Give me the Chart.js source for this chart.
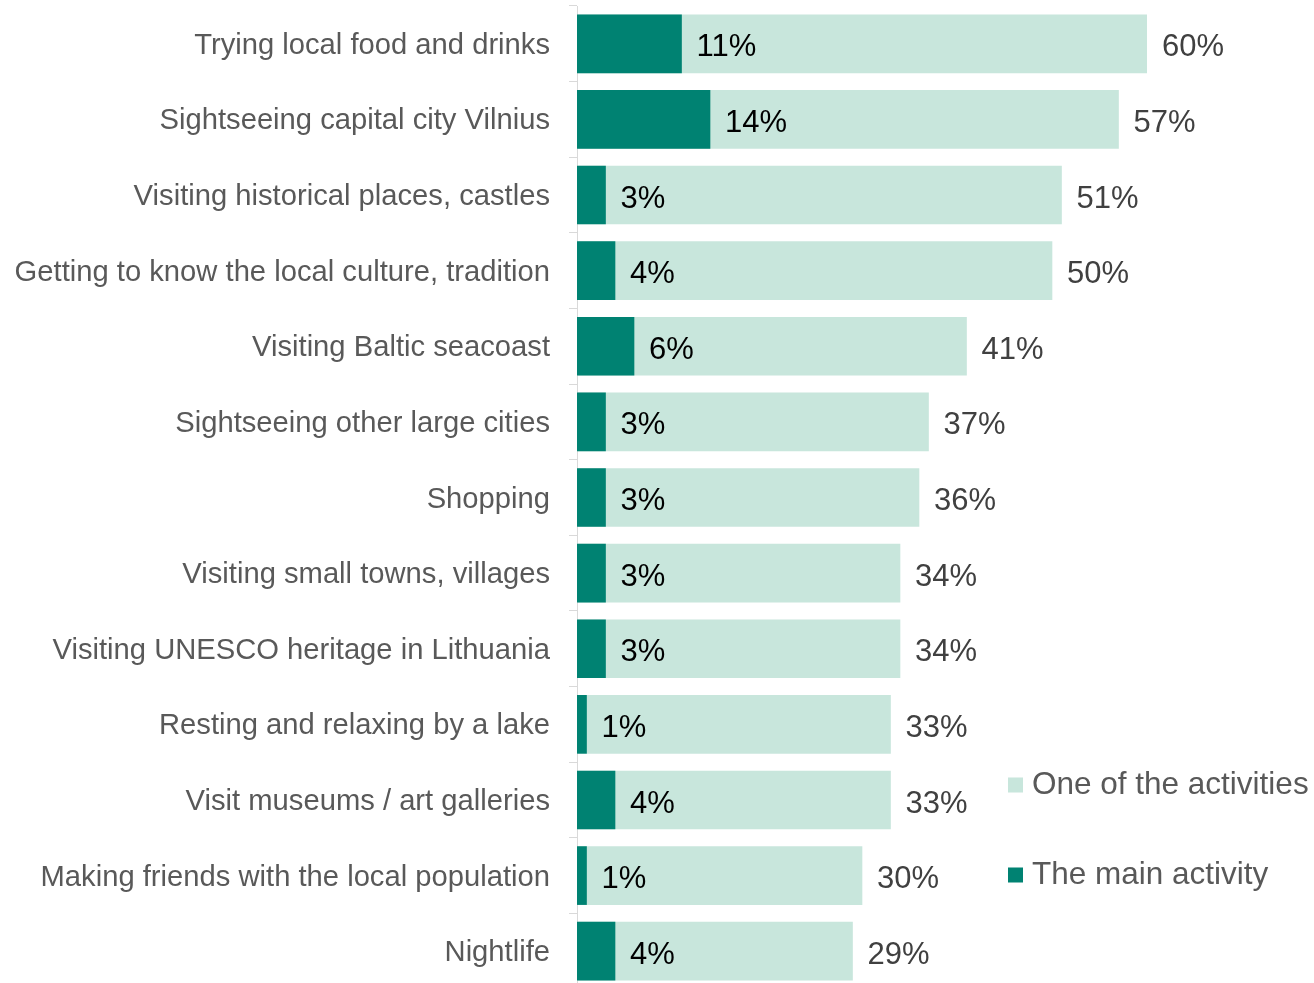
<!DOCTYPE html>
<html>
<head>
<meta charset="utf-8">
<script src="https://cdn.jsdelivr.net/npm/chart.js@4"></script>
<style>
  html, body { margin: 0; padding: 0; background: #ffffff; overflow: hidden; }
  #wrap { position: relative; width: 1314px; height: 990px; }
</style>
</head>
<body>
<div id="wrap"><canvas id="chart"></canvas></div>
<script>
// Tourist activities in Lithuania: share naming each activity
const categories = [
  'Trying local food and drinks',
  'Sightseeing capital city Vilnius',
  'Visiting historical places, castles',
  'Getting to know the local culture, tradition',
  'Visiting Baltic seacoast',
  'Sightseeing other large cities',
  'Shopping',
  'Visiting small towns, villages',
  'Visiting UNESCO heritage in Lithuania',
  'Resting and relaxing by a lake',
  'Visit museums / art galleries',
  'Making friends with the local population',
  'Nightlife'
];
const oneOfActivities = [60, 57, 51, 50, 41, 37, 36, 34, 34, 33, 33, 30, 29];
const mainActivity = [11, 14, 3, 4, 6, 3, 3, 3, 3, 1, 4, 1, 4];
const seriesNames = ['One of the activities', 'The main activity'];

const FONT = '"Liberation Sans", Arial, sans-serif';
const LIGHT = 'rgb(200, 230, 220)';
const DARK = 'rgb(0, 130, 114)';

// Percentage labels just past the end of each bar
const valueLabels = {
  id: 'valueLabels',
  afterDatasetsDraw(chart) {
    const ctx = chart.ctx;
    ctx.save();
    ctx.font = '31px ' + FONT;
    ctx.textAlign = 'left';
    ctx.textBaseline = 'middle';
    chart.data.datasets.forEach((ds, i) => {
      const meta = chart.getDatasetMeta(i);
      ctx.fillStyle = ds.labelColor;
      meta.data.forEach((bar, j) => {
        ctx.fillText(ds.data[j] + '%', bar.x + 15, bar.y + 4);
      });
    });
    ctx.restore();
  }
};

// Legend drawn as two stacked entries at the lower right
const sideLegend = {
  id: 'sideLegend',
  afterDraw(chart) {
    const ctx = chart.ctx;
    ctx.save();
    ctx.font = '31.5px ' + FONT;
    ctx.textAlign = 'left';
    ctx.textBaseline = 'middle';
    const x = 1008, ys = [785, 875], box = 15;
    chart.data.datasets.forEach((ds, i) => {
      ctx.fillStyle = ds.backgroundColor;
      ctx.fillRect(x, ys[i] - box / 2, box, box);
      ctx.fillStyle = '#595959';
      ctx.fillText(ds.label, x + 24, ys[i]);
    });
    ctx.restore();
  }
};

new Chart(document.getElementById('chart'), {
  type: 'bar',
  data: {
    labels: categories,
    datasets: [
      {
        label: seriesNames[0],
        data: oneOfActivities,
        backgroundColor: LIGHT,
        labelColor: '#404040',
        order: 1
      },
      {
        label: seriesNames[1],
        data: mainActivity,
        backgroundColor: DARK,
        labelColor: '#000000',
        order: 0
      }
    ]
  },
  options: {
    indexAxis: 'y',
    responsive: true,
    maintainAspectRatio: false,
    animation: false,
    grouped: false,
    barThickness: 58,
    layout: { padding: { top: 6, bottom: 1, left: 0, right: 167 } },
    plugins: {
      legend: { display: false },
      tooltip: { enabled: false }
    },
    scales: {
      x: {
        display: false,
        min: 0,
        max: 60
      },
      y: {
        afterFit(scale) {
          scale.width = 577;
          scale.paddingTop = 0;
          scale.paddingBottom = 0;
        },
        border: { display: true, color: '#d9d9d9', width: 1 },
        grid: {
          offset: true,
          drawOnChartArea: false,
          drawTicks: true,
          tickLength: 8,
          color: '#d9d9d9'
        },
        ticks: {
          padding: 19,
          labelOffset: 2,
          color: '#595959',
          font: { family: FONT, size: 29.2 }
        }
      }
    }
  },
  plugins: [valueLabels, sideLegend]
});
</script>
</body>
</html>
